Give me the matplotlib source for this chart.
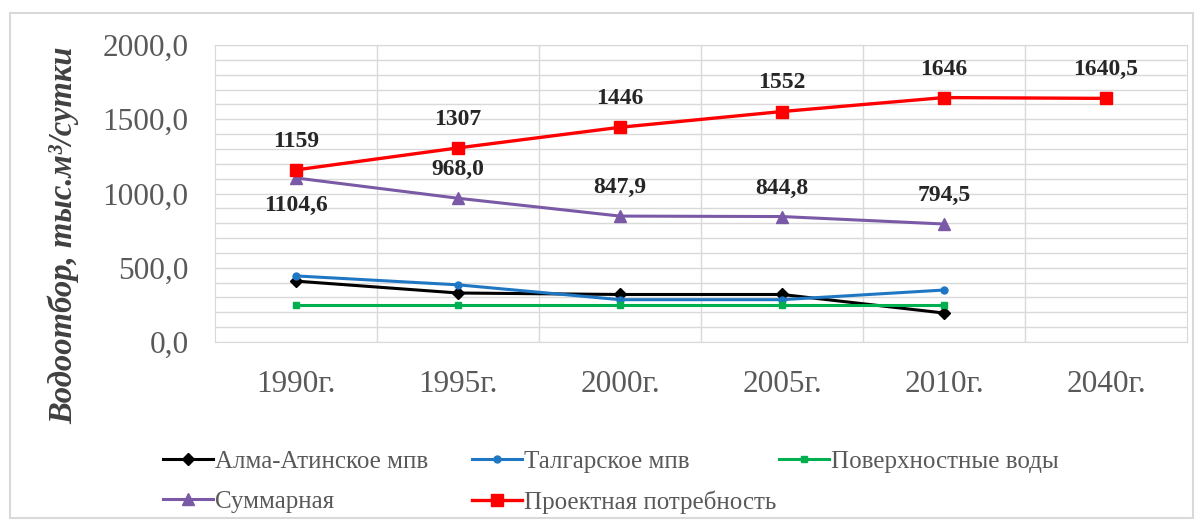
import matplotlib.pyplot as plt
from matplotlib.patches import Rectangle
from matplotlib.ticker import MultipleLocator, FuncFormatter

years = ["1990г.", "1995г.", "2000г.", "2005г.", "2010г.", "2040г."]
alma_ata = [410, 330, 320, 320, 195]
talgar = [445, 385, 285, 285, 350]
surface = [250, 250, 250, 250, 250]
total = [1104.6, 968.0, 847.9, 844.8, 794.5]
project = [1159, 1307, 1446, 1552, 1646, 1640.5]

total_labels = ["1104,6", "968,0", "847,9", "844,8", "794,5"]
project_labels = ["1159", "1307", "1446", "1552", "1646", "1640,5"]

plt.rcParams["font.family"] = ["Liberation Serif", "DejaVu Serif"]

fig = plt.figure(figsize=(12.03, 5.27), dpi=100)
fig.patches.append(Rectangle((10 / 1203, 9 / 527), 1183 / 1203, 505 / 527,
                             transform=fig.transFigure, fill=False,
                             edgecolor="#d9d9d9", linewidth=1.5))

ax = fig.add_axes([215 / 1203, 1 - 342 / 527, 972 / 1203, 297 / 527])

x = list(range(len(years)))
n = len(alma_ata)

ax.plot(x[:n], alma_ata, color="black", lw=2.2, marker="D", ms=6, label="Алма-Атинское мпв", zorder=3)
ax.plot(x[:n], talgar, color="#1f77c4", lw=2.2, marker="o", ms=5, label="Талгарское мпв", zorder=3)
ax.plot(x[:n], surface, color="#00b050", lw=2.2, marker="s", ms=4, label="Поверхностные воды", zorder=3)
ax.plot(x[:n], total, color="#7a5aa6", lw=2.2, marker="^", ms=8, label="Суммарная", zorder=3)
ax.plot(x, project, color="#ff0000", lw=2.4, marker="s", ms=9, label="Проектная потребность", zorder=4)

for i, (v, t) in enumerate(zip(project, project_labels)):
    ax.annotate(t, (i, v), xytext=(0, 13), textcoords="offset points", ha="center", va="bottom",
                fontsize=17, fontweight="bold", color="#262626")
for i, (v, t) in enumerate(zip(total, total_labels)):
    off = -12 if i == 0 else 13
    ax.annotate(t, (i, v), xytext=(0, off), textcoords="offset points", ha="center",
                va="top" if i == 0 else "bottom",
                fontsize=17, fontweight="bold", color="#262626")

ax.set_xlim(-0.5, len(years) - 0.5)
ax.set_ylim(0, 2000)
ax.set_xticks(x)
ax.set_xticklabels(years)
ax.yaxis.set_major_locator(MultipleLocator(500))
ax.yaxis.set_minor_locator(MultipleLocator(100))
ax.yaxis.set_major_formatter(FuncFormatter(lambda v, p: f"{v:.1f}".replace(".", ",")))
ax.set_xticks([i + 0.5 for i in x[:-1]], minor=True)

ax.grid(True, which="both", axis="y", color="#d9d9d9", lw=1)
ax.grid(True, which="minor", axis="x", color="#d9d9d9", lw=1)
ax.set_axisbelow(True)
for s in ax.spines.values():
    s.set_color("#d9d9d9")

ax.tick_params(axis="both", which="both", length=0, labelsize=22.5, labelcolor="#595959")
ax.tick_params(axis="y", pad=19)
ax.tick_params(axis="x", pad=20)

ax.set_ylabel("Водоотбор, тыс.м³/сутки", fontsize=23.5, fontweight="bold", fontstyle="italic",
              color="#404040")
ax.yaxis.set_label_coords(-136 / 972, (342 - 235) / 297)

# legend: Excel-like columns, one legend per column
handles, labels = ax.get_legend_handles_labels()
columns = [([0, 3], 140), ([1, 4], 449), ([2], 756)]
for idx, xpos in columns:
    fig.legend([handles[i] for i in idx], [labels[i] for i in idx], ncol=1,
               loc="upper left", bbox_to_anchor=(xpos / 1203, 1 - 428 / 527), frameon=False,
               prop={"family": "Liberation Serif", "size": 18}, labelcolor="#595959",
               handlelength=2.0, handletextpad=0.1, labelspacing=0.7)

fig.savefig("out.png", dpi=100)
